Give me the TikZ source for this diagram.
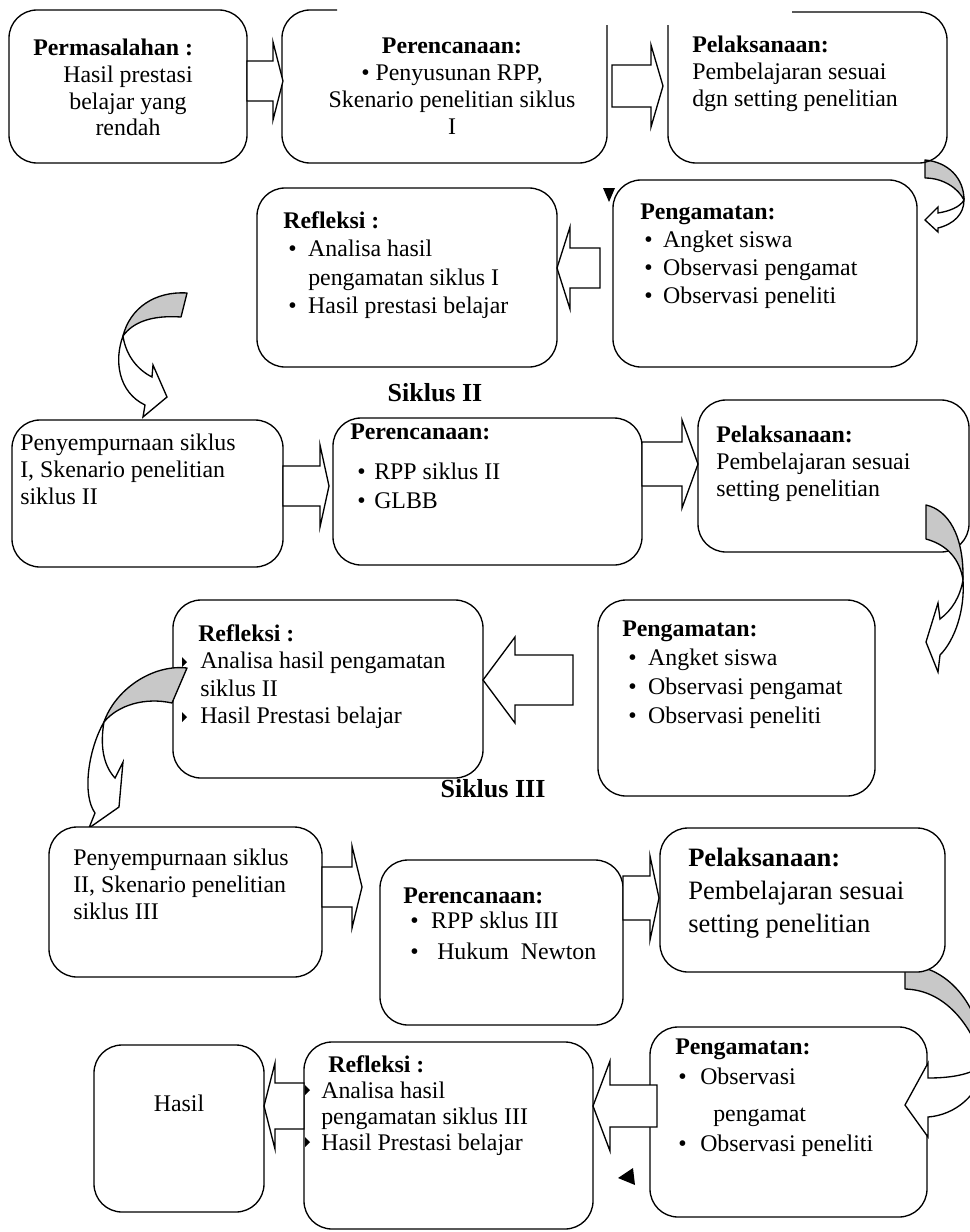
\documentclass[tikz,border=0pt]{standalone}
\usepackage{fontspec}
\setmainfont{Liberation Serif}
\usetikzlibrary{fit}
\definecolor{cgray}{RGB}{200,200,200}
\newcommand{\mybul}[2]{\hspace*{#1}\makebox[#2][l]{•}}
\newcommand{\blkarrow}[6]{\draw[barrow] (#1,#4-#5) -- (#3,#4-#5) -- (#3,#4-#6) -- (#2,#4) -- (#3,#4+#6) -- (#3,#4+#5) -- (#1,#4+#5) -- cycle;}
\tikzset{
  bline/.style={line width=1pt, rounded corners=21pt},
  box/.style={draw, line width=1pt, rounded corners=21pt, inner sep=0pt, fill=white},
  nbox/.style={inner sep=0pt},
  txt/.style={inner sep=0pt, anchor=north west, align=left, font={\fontsize{17.9}{21}\selectfont}},
  barrow/.style={line width=1pt, fill=white, line join=miter},
  cband/.style={draw, line width=1pt, fill=cgray, line join=round},
  cface/.style={draw, line width=1pt, fill=white, line join=miter},
  heading/.style={inner sep=0pt, font={\fontsize{19.5}{22}\selectfont\bfseries}}
}
\begin{document}
\begin{tikzpicture}[x=0.75pt,y=-0.75pt]
\useasboundingbox (0,0) rectangle (970,1232);
\clip (0,0) rectangle (970,1232);
% curved arrow 1 (under box 3)
\draw[cface] (964,200) .. controls (964,214) and (954,224) .. (938,228) -- (938,232) -- (925,220) -- (938,207) -- (938,213) .. controls (950,211) and (960,207) .. (964,200) -- cycle;
\draw[cband] (925,160) .. controls (948,162) and (964,178) .. (964,200) .. controls (958,188) and (943,178) .. (925,178) -- cycle;
% row 1
\node[box, fit={(9,10) (247,163)}] (b1) {};
\node[nbox, fit={(282,10) (607,163)}] (b2) {};
\draw[bline] (337,10) -- (282,10) -- (282,163) -- (607,163) -- (607,25);
\node[nbox, fit={(668,12) (947,163)}] (b3) {};
\draw[bline] (668,25) -- (668,163) -- (947,163) -- (947,12) -- (792,12);
% row 2
\node[box, fit={(257,188) (557,367)}] (b4) {};
\node[box, fit={(613,180) (917,367)}] (b5) {};
% row 3
\node[box, fit={(12,420) (283,567)}] (b6) {};
\node[box, fit={(333,418) (642,565)}] (b7) {};
\node[box, fit={(698,400) (969,552)}] (b8) {};
% curved arrow 3 (over box 8)
\draw[cface] (963,580) .. controls (965,610) and (955,640) .. (940,655) -- (938,672) -- (926,642) -- (938,603) -- (940,619) .. controls (952,610) and (960,597) .. (963,580) -- cycle;
\draw[cband] (926,505) .. controls (948,510) and (964,535) .. (963,580) .. controls (960,560) and (948,545) .. (926,539) -- cycle;
% row 4
\node[box, fit={(173,600) (483,778)}] (b9) {};
\node[box, fit={(598,600) (875,796)}] (b10) {};
% curved arrow 4 (over box 9)
\draw[cface] (104,722) .. controls (88,750) and (82,795) .. (95,813) -- (89,828) -- (119,807) -- (123,762) -- (115,778) .. controls (103,765) and (100,745) .. (104,722) -- cycle;
\draw[cband] (187,668) .. controls (152,664) and (115,690) .. (104,722) .. controls (118,705) and (145,697) .. (172,703) -- cycle;
% curved arrow 2
\draw[cface] (123,336) .. controls (114,360) and (118,392) .. (145,405) -- (143,417) -- (167,397) -- (153,365) -- (152,377) .. controls (138,370) and (126,356) .. (123,336) -- cycle;
\draw[cband] (187,293) .. controls (155,291) and (130,308) .. (123,336) .. controls (133,322) and (152,315) .. (181,317) -- cycle;
% row 5
\node[box, fit={(49,827) (322,977)}] (b11) {};
\node[box, fit={(380,860) (623,1025)}] (b12) {};
\node[box, fit={(650,1027) (927,1217)}] (b14) {};
% curved arrow 5
\draw[cface] (984,1065) .. controls (970,1075) and (950,1078) .. (928,1078) -- (928,1063) -- (905,1105) -- (928,1137) -- (928,1117) .. controls (955,1115) and (980,1095) .. (984,1065) -- cycle;
\draw[cband] (905,965) -- (905,989) .. controls (945,990) and (972,1025) .. (984,1065) .. controls (984,1010) and (950,965) .. (905,965) -- cycle;
\node[box, fit={(660,828) (945,972)}] (b13) {};
\node[box, fit={(304,1042) (593,1229)}] (b15) {};
\node[box, fit={(94,1045) (264,1212)}] (b16) {};
% block arrows
\blkarrow{247}{283}{273}{81}{20}{39}
\blkarrow{612}{663}{651}{86}{21}{41}
\blkarrow{600}{557}{570}{268}{20}{41}
\blkarrow{283}{329}{320}{486}{20}{41}
\blkarrow{642}{698}{682}{464}{22}{44}
\blkarrow{573}{483}{515}{680}{25}{43}
\blkarrow{322}{362}{352}{887}{20}{41}
\blkarrow{623}{659}{650}{898}{22}{42}
\blkarrow{657}{593}{610}{1106}{21}{45}
\blkarrow{304}{264}{275}{1106}{23}{43}
% small triangles
\fill (603,188) -- (615,188) -- (609,202) -- cycle;
\fill (618,1178) -- (633,1168) -- (635,1185) -- cycle;
\fill (182,657) -- (187,662) -- (182,667) -- cycle;
\fill (182,712) -- (187,717) -- (182,722) -- cycle;
\fill (305,1085) -- (310,1090) -- (305,1095) -- cycle;
\fill (305,1137) -- (310,1142) -- (305,1147) -- cycle;
% texts
\node[txt] (t1a) at (33,39) {\bfseries Permasalahan :};
\node[txt, anchor=north, align=center, font={\fontsize{17.9}{19.9}\selectfont}] (t1b) at (128,66) {Hasil prestasi\\belajar yang\\rendah};
\node[txt, anchor=north, align=center, font={\fontsize{17.9}{20.25}\selectfont}] (t2) at (452,38) {\textbf{Perencanaan:}\\• Penyusunan RPP,\\Skenario penelitian siklus\\I};
\node[txt, font={\fontsize{17.9}{20.25}\selectfont}] (t3) at (692,36) {\textbf{Pelaksanaan:}\\Pembelajaran sesuai\\dgn setting penelitian};
\node[txt, font={\fontsize{17.9}{21.4}\selectfont}] (t4) at (283,211) {\textbf{Refleksi :}\\\mybul{3.75pt}{15pt}Analisa hasil\\\hspace*{18.75pt}pengamatan siklus I\\\mybul{3.75pt}{15pt}Hasil prestasi belajar};
\node[txt, font={\fontsize{17.9}{21}\selectfont}] (t5) at (640,204) {\textbf{Pengamatan:}\\\mybul{3pt}{14.25pt}Angket siswa\\\mybul{3pt}{14.25pt}Observasi pengamat\\\mybul{3pt}{14.25pt}Observasi peneliti};
\node[heading] (s2) at (435,393) {Siklus II};
\node[txt, font={\fontsize{17.9}{20.25}\selectfont}] (t6) at (20,434) {Penyempurnaan siklus\\I, Skenario penelitian\\siklus II};
\node[txt, font={\fontsize{17.9}{21.75}\selectfont}] (t7) at (350,424) {\textbf{Perencanaan:}\\[8pt]\mybul{5.25pt}{12.75pt}RPP siklus II\\\mybul{5.25pt}{12.75pt}GLBB};
\node[txt, font={\fontsize{17.9}{20}\selectfont}] (t8) at (716,426) {\textbf{Pelaksanaan:}\\Pembelajaran sesuai\\setting penelitian};
\node[txt, font={\fontsize{17.9}{20.6}\selectfont}] (t9) at (198,624) {\textbf{Refleksi :}\\\hspace*{1.5pt}Analisa hasil pengamatan\\\hspace*{1.5pt}siklus II\\\hspace*{1.5pt}Hasil Prestasi belajar};
\node[txt, font={\fontsize{17.9}{21.7}\selectfont}] (t10) at (622,621) {\textbf{Pengamatan:}\\\mybul{4.5pt}{15pt}Angket siswa\\\mybul{4.5pt}{15pt}Observasi pengamat\\\mybul{4.5pt}{15pt}Observasi peneliti};
\node[heading] (s3) at (493,789) {Siklus III};
\node[txt, font={\fontsize{17.9}{20.25}\selectfont}] (t11) at (73,849) {Penyempurnaan siklus\\II, Skenario penelitian\\siklus III};
\node[txt, font={\fontsize{17.9}{18.75}\selectfont}] (t12) at (403,888) {\textbf{Perencanaan:}\\\mybul{5.25pt}{15.75pt}RPP sklus III\\[4.5pt]\mybul{5.25pt}{20.25pt}Hukum\ \ Newton};
\node[txt, font={\fontsize{19.9}{24.75}\selectfont}] (t13) at (688,848) {\textbf{Pelaksanaan:}\\Pembelajaran sesuai\\setting penelitian};
\node[txt, font={\fontsize{17.9}{22.5}\selectfont}] (t14) at (675,1039) {\textbf{Pengamatan:}\\\mybul{2.25pt}{16.5pt}Observasi\\[5pt]\hspace*{28.5pt}pengamat\\\mybul{2.25pt}{16.5pt}Observasi peneliti};
\node[txt, font={\fontsize{17.9}{19.5}\selectfont}] (t15) at (321,1055) {\hspace*{5.25pt}\textbf{Refleksi :}\\Analisa hasil\\pengamatan siklus III\\Hasil Prestasi belajar};
\node[inner sep=0pt, font={\fontsize{17.9}{21}\selectfont}] (t16) at (179,1103) {Hasil};
\end{tikzpicture}
\end{document}
